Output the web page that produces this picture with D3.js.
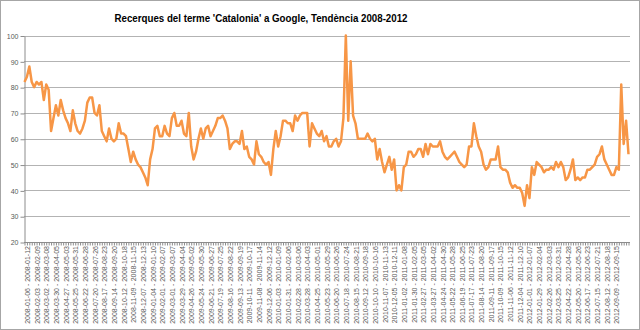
<!DOCTYPE html>
<html>
<head>
<meta charset="utf-8">
<script src="https://cdn.jsdelivr.net/npm/d3@7/dist/d3.min.js"></script>
<style>
body { margin: 0; background: #fff; }
</style>
</head>
<body>
<svg id="chart" width="640" height="330"></svg>
<script>
const title = "Recerques del terme 'Catalonia' a Google, Tendència 2008-2012"
const firstWeek = "2008-01-06"
const labelEvery = 4
const lastLabel = 244
const yTicks = [20, 30, 40, 50, 60, 70, 80, 90, 100]

// weekly search index
const searches = [
    82, 84, 88, 82, 80, 82, 81, 82, 75, 81,
    79, 63, 68, 73, 69, 75, 71, 68, 66, 63,
    71, 66, 63, 62, 64, 67, 74, 76, 76, 70,
    69, 73, 63, 61, 59, 64, 60, 59, 60, 66,
    62, 62, 61, 56, 51, 55, 52, 50, 49, 47,
    45, 42, 52, 56, 64, 65, 61, 61, 65, 62,
    61, 68, 70, 65, 65, 67, 62, 61, 70, 57,
    52, 55, 60, 64, 60, 64, 65, 61, 63, 65,
    68, 68, 69, 67, 64, 56, 58, 59, 59, 58,
    63, 56, 57, 53, 52, 50, 59, 54, 53, 51,
    50, 51, 46, 56, 63, 57, 61, 67, 67, 66,
    66, 63, 69, 67, 69, 70, 70, 70, 57, 66,
    64, 62, 61, 63, 59, 61, 57, 57, 59, 60,
    57, 59, 68, 100, 67, 90, 69, 66, 60, 60,
    60, 60, 62, 60, 59, 60, 52, 56, 51, 47,
    50, 53, 48, 52, 40, 42, 40, 49, 50, 55,
    55, 53, 54, 56, 56, 53, 58, 54, 58, 57,
    57, 57, 59, 55, 53, 52, 53, 54, 55, 53,
    51, 50, 49, 50, 57, 57, 66, 61, 57, 55,
    50, 48, 49, 52, 52, 52, 57, 49, 48, 48,
    47, 43, 41, 42, 41, 41, 39, 34, 42, 37,
    49, 46, 51, 50, 49, 47, 48, 48, 49, 48,
    51, 49, 51, 49, 44, 45, 48, 52, 44, 45,
    44, 45, 45, 48, 48, 49, 50, 53, 54, 57,
    52, 50, 48, 46, 46, 49, 48, 81, 58, 67,
    54
]

const parseDay = d3.utcParse('%Y-%m-%d')
const fmtDay = d3.utcFormat('%Y-%m-%d')
const start = parseDay(firstWeek)
const weeks = searches.map((d, i) => {
    let a = d3.utcDay.offset(start, i * 7)
    let b = d3.utcDay.offset(a, 6)
    return fmtDay(a) + ' - ' + fmtDay(b)
})

const svg = d3.select('#chart')
const grey = '#595959'

svg.append('rect')
    .attr('x', 0.5).attr('y', 0.5)
    .attr('width', 639).attr('height', 329)
    .attr('fill', '#fff')
    .attr('stroke', '#a6a6a6')

svg.append('text')
    .attr('x', 261).attr('y', 22)
    .attr('text-anchor', 'middle')
    .attr('font-family', "'Liberation Sans Narrow', 'Liberation Sans', Arial, sans-serif")
    .attr('font-weight', 'bold')
    .attr('font-size', 11.5)
    .attr('textLength', 293)
    .attr('lengthAdjust', 'spacingAndGlyphs')
    .attr('fill', '#000')
    .text(title)

let x = d3.scalePoint()
    .domain(d3.range(searches.length))
    .range([24.5, 628.5])
let y = d3.scaleLinear()
    .domain([20, 100])
    .range([242, 35.5])

// gridlines
svg.append('g')
    .selectAll('line')
    .data(yTicks.slice(1))
    .join('line')
    .attr('x1', 24).attr('x2', 630)
    .attr('y1', d => Math.round(y(d)) + 0.5)
    .attr('y2', d => Math.round(y(d)) + 0.5)
    .attr('stroke', '#b3b3b3')
    .attr('stroke-width', 1)

// y axis
let yAxis = svg.append('g')
    .attr('transform', 'translate(24.5,0.5)')
    .call(d3.axisLeft(y).tickValues(yTicks).tickSize(4).tickSizeOuter(0).tickPadding(2))
yAxis.select('.domain').attr('stroke', '#8c8c8c')
yAxis.selectAll('.tick line').attr('stroke', '#8c8c8c')
yAxis.selectAll('.tick text')
    .attr('font-family', "'Liberation Sans Narrow', 'Liberation Sans', Arial, sans-serif")
    .attr('font-size', 7)
    .attr('fill', grey)

// x axis with a tick on every week
let xAxis = svg.append('g')
    .attr('transform', 'translate(0,' + (Math.round(y(20)) + 0.5) + ')')
    .call(d3.axisBottom(x).tickValues(d3.range(searches.length)).tickSize(3).tickSizeOuter(0).tickFormat(''))
xAxis.select('.domain').attr('stroke', '#8c8c8c').attr('d', 'M24,0H630')
xAxis.selectAll('.tick line').attr('stroke', '#8c8c8c')

svg.append('g')
    .selectAll('text')
    .data(d3.range(0, lastLabel + 1, labelEvery))
    .join('text')
    .attr('transform', d => 'translate(' + (x(d) + 3) + ',' + 246 + ') rotate(-90)')
    .attr('text-anchor', 'end')
    .attr('dy', '0.35em')
    .attr('font-family', "'Liberation Sans', Arial, sans-serif")
    .attr('font-size', 7)
    .attr('fill', grey)
    .text(d => weeks[d])

// the series
svg.append('path')
    .datum(searches)
    .attr('fill', 'none')
    .attr('stroke', '#f79646')
    .attr('stroke-width', 2.5)
    .attr('stroke-linejoin', 'round')
    .attr('d', d3.line().x((d, i) => x(i)).y(d => y(d)))
</script>
</body>
</html>
